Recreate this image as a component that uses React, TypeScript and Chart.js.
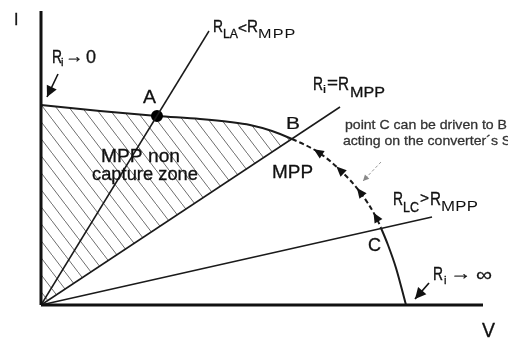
import React, { useEffect, useRef } from "react";
import { Chart, registerables } from "chart.js";

Chart.register(...registerables);

// ---- data (arbitrary units: V on x, I on y) ----
const V_MAX = 44.2;
const I_MAX = 29.4;

const curveV = [0, 5.9, 11.6, 15.9, 18.9, 20.9, 23.1, 25.1, 27.7, 29.9, 31.9, 33.5, 34.0, 34.7, 35.5, 36.5];
const curveI = [20.0, 19.4, 18.9, 18.6, 18.3, 18.0, 17.4, 16.6, 15.3, 13.5, 11.3, 8.8, 7.7, 6.0, 3.7, 0];
const IDX_A = 2;
const IDX_B = 7;
const IDX_C = 12;
const trackArrowIdx = [8, 9, 10, 11];

const loadLA = [{ x: 0, y: 0 }, { x: 16.8, y: 27.4 }];
const loadMPP = [{ x: 0, y: 0 }, { x: 29.9, y: 19.8 }];
const loadLC = [{ x: 0, y: 0 }, { x: 39.1, y: 8.8 }];

const axisV = [{ x: 0, y: 0 }, { x: V_MAX, y: 0 }];
const axisI = [{ x: 0, y: 0 }, { x: 0, y: I_MAX }];

// pointer arrows: [start, tip]
const arrowR0 = [{ x: 1.7, y: 23.1 }, { x: 0.6, y: 20.8 }];
const arrowRInf = [{ x: 38.8, y: 2.2 }, { x: 37.4, y: 0.6 }];
const arrowHint = [{ x: 34.0, y: 14.3 }, { x: 32.2, y: 12.4 }];

const curve = curveV.map((v, i) => ({ x: v, y: curveI[i] }));

// ---- labels (pixel layout) ----
type Part = { t: string; x: number; y: number; size: number; w?: number; color?: string };
const FONT = '"Liberation Sans", Arial, Helvetica, sans-serif';
const labels: Part[] = [
  { t: "I", x: 14, y: 25, size: 16 },
  // R_i -> 0
  { t: "R", x: 52, y: 63, size: 18, w: 10 },
  { t: "i", x: 61, y: 66, size: 11, w: 2.5 },
  { t: "\u2192", x: 65, y: 62, size: 18, w: 18 },
  { t: "0", x: 86, y: 63, size: 18, w: 10 },
  // A
  { t: "A", x: 143, y: 103, size: 18, w: 13 },
  // R_LA<R_MPP
  { t: "R", x: 213, y: 32, size: 17, w: 10 },
  { t: "LA", x: 223, y: 38, size: 12, w: 15 },
  { t: "<", x: 238, y: 33, size: 14, w: 9 },
  { t: "R", x: 247, y: 32, size: 17, w: 11 },
  { t: "MPP", x: 258, y: 38, size: 13.5, w: 38 },
  // R_i=R_MPP
  { t: "R", x: 313, y: 90, size: 18, w: 10 },
  { t: "i", x: 323, y: 93, size: 11, w: 3 },
  { t: "=", x: 327, y: 88, size: 16, w: 11 },
  { t: "R", x: 338, y: 90, size: 18, w: 11 },
  { t: "MPP", x: 350, y: 97, size: 14, w: 35 },
  // MPP non capture zone
  { t: "MPP non", x: 101, y: 162, size: 19, w: 79 },
  { t: "capture zone", x: 92, y: 180, size: 19, w: 106 },
  // B, MPP
  { t: "B", x: 286, y: 129, size: 17, w: 14 },
  { t: "MPP", x: 272, y: 178, size: 19, w: 41 },
  // R_LC>R_MPP
  { t: "R", x: 393, y: 205, size: 18, w: 10 },
  { t: "LC", x: 403, y: 212, size: 14, w: 16 },
  { t: ">", x: 420, y: 203, size: 14, w: 9 },
  { t: "R", x: 430, y: 205, size: 18, w: 11 },
  { t: "MPP", x: 441, y: 211, size: 14, w: 37 },
  // C
  { t: "C", x: 368, y: 251, size: 19, w: 13 },
  // R_i -> inf
  { t: "R", x: 433, y: 280, size: 18, w: 10 },
  { t: "i", x: 444, y: 284, size: 11, w: 2.5 },
  { t: "\u2192", x: 450, y: 279, size: 18, w: 21 },
  { t: "\u221E", x: 476, y: 281, size: 19, w: 16 },
  // V
  { t: "V", x: 482, y: 337, size: 20, w: 13 },
];
const noteLines = ["point C can be driven to B by", "acting on the converter\u00B4s Switch"];

function drawPart(ctx: CanvasRenderingContext2D, p: Part, sxOverride?: number) {
  ctx.save();
  ctx.font = `${p.size}px ${FONT}`;
  ctx.fillStyle = p.color || "#111";
  ctx.strokeStyle = p.color || "#111";
  ctx.textBaseline = "alphabetic";
  ctx.textAlign = "left";
  const mw = ctx.measureText(p.t).width;
  let sx = sxOverride !== undefined ? sxOverride : p.w ? p.w / mw : 1;
  let stroke = true;
  if (sxOverride === undefined && p.w && sx > 1.2 && p.t.length > 1) {
    sx = 1.2;
    const extra = p.w - mw * sx;
    (ctx as any).letterSpacing = `${extra / sx / (p.t.length - 0.5)}px`;
    stroke = false;
  }
  ctx.translate(p.x, p.y);
  ctx.scale(sx, 1);
  ctx.lineWidth = 0.3 / sx;
  ctx.fillText(p.t, 0, 0);
  if (stroke) ctx.strokeText(p.t, 0, 0);
  ctx.restore();
}

function makeHatch(): CanvasPattern | string {
  const w = 13, h = 17;
  const c = document.createElement("canvas");
  c.width = w;
  c.height = h;
  const g = c.getContext("2d");
  if (!g) return "rgba(0,0,0,0.1)";
  g.strokeStyle = "#6e6e6e";
  g.lineWidth = 1;
  g.beginPath();
  g.moveTo(-w, -h);
  g.lineTo(2 * w, 2 * h);
  g.stroke();
  const p = g.createPattern(c, "repeat");
  return p || "rgba(0,0,0,0.1)";
}

function drawHead(ctx: CanvasRenderingContext2D, tx: number, ty: number, dx: number, dy: number, len: number, half: number, color: string, centered: boolean) {
  const L = Math.hypot(dx, dy) || 1;
  const ux = dx / L, uy = dy / L;
  const px = -uy, py = ux;
  let tipX = tx, tipY = ty;
  if (centered) {
    tipX = tx + ux * len / 2;
    tipY = ty + uy * len / 2;
  }
  const bx = tipX - ux * len, by = tipY - uy * len;
  ctx.beginPath();
  ctx.moveTo(tipX, tipY);
  ctx.lineTo(bx + px * half, by + py * half);
  ctx.lineTo(bx - px * half, by - py * half);
  ctx.closePath();
  ctx.fillStyle = color;
  ctx.fill();
}

export default function App() {
  const ref = useRef<HTMLCanvasElement | null>(null);
  useEffect(() => {
    const canvas = ref.current;
    if (!canvas) return;
    const hatch = makeHatch();

    const overlay = {
      id: "overlay",
      beforeDatasetsDraw(chart: any) {
        const { ctx } = chart;
        const xs = chart.scales.x, ys = chart.scales.y;
        ctx.save();
        ctx.beginPath();
        ctx.moveTo(xs.getPixelForValue(0), ys.getPixelForValue(0));
        for (let i = 0; i <= IDX_B; i++) {
          ctx.lineTo(xs.getPixelForValue(curveV[i]), ys.getPixelForValue(curveI[i]));
        }
        ctx.closePath();
        ctx.fillStyle = hatch;
        ctx.fill();
        ctx.restore();
      },
      afterDatasetsDraw(chart: any) {
        const { ctx } = chart;
        const xs = chart.scales.x, ys = chart.scales.y;
        const P = (pt: { x: number; y: number }) => [xs.getPixelForValue(pt.x), ys.getPixelForValue(pt.y)];
        ctx.save();
        const heads: [any[], string, number, number][] = [
          [arrowR0, "#111", 11, 5.5],
          [arrowRInf, "#111", 11, 5.5],
          [arrowHint, "#888", 6, 3],
        ];
        for (const [a, col, len, half] of heads) {
          const [sx, sy] = P(a[0]);
          const [tx, ty] = P(a[1]);
          drawHead(ctx, tx, ty, tx - sx, ty - sy, len, half, col, false);
        }
        for (const i of trackArrowIdx) {
          const [cx, cy] = P(curve[i]);
          const [ax, ay] = P(curve[i - 1]);
          const [bx, by] = P(curve[i + 1]);
          drawHead(ctx, cx, cy, ax - bx, ay - by, 10, 4.5, "#111", true);
        }
        for (const p of labels) drawPart(ctx, p);
        ctx.font = `13px ${FONT}`;
        const m1 = ctx.measureText("point C can be driven to B").width;
        const sx = 162 / m1;
        drawPart(ctx, { t: noteLines[0], x: 345, y: 129, size: 13, color: "#333" }, sx);
        drawPart(ctx, { t: noteLines[1], x: 343, y: 145, size: 13, color: "#333" }, sx);
        ctx.restore();
      },
    };

    const lineColor = "#1a1a1a";
    const base = { showLine: true, pointRadius: 0, clip: false as any, fill: false, tension: 0 };

    const chart = new Chart(canvas, {
      type: "scatter",
      data: {
        datasets: [
          { ...base, data: axisV, borderColor: "#111", borderWidth: 3 },
          { ...base, data: axisI, borderColor: "#111", borderWidth: 3 },
          { ...base, data: loadLA, borderColor: lineColor, borderWidth: 1.5 },
          { ...base, data: loadMPP, borderColor: lineColor, borderWidth: 1.5 },
          { ...base, data: loadLC, borderColor: lineColor, borderWidth: 1.5 },
          {
            ...base,
            data: curve,
            borderColor: lineColor,
            borderWidth: 2,
            tension: 0.3,
            cubicInterpolationMode: "monotone",
            segment: {
              borderDash: (c: any) => (c.p0DataIndex >= IDX_B && c.p1DataIndex <= IDX_C ? [5, 3] : undefined),
            },
            pointRadius: curve.map((_, i) => (i === IDX_A ? 5 : 0)),
            pointBackgroundColor: "#000",
            pointBorderColor: "#000",
          },
          { ...base, data: arrowR0, borderColor: "#111", borderWidth: 1.6 },
          { ...base, data: arrowRInf, borderColor: "#111", borderWidth: 1.6 },
          { ...base, data: arrowHint, borderColor: "#999", borderWidth: 1, borderDash: [3, 2] },
        ] as any,
      },
      options: {
        responsive: false,
        animation: false,
        devicePixelRatio: 1,
        layout: { padding: { left: 41, right: 25, top: 11, bottom: 37 } },
        plugins: { legend: { display: false }, tooltip: { enabled: false } },
        events: [],
        scales: {
          x: { type: "linear", min: 0, max: V_MAX, display: false },
          y: { type: "linear", min: 0, max: I_MAX, display: false },
        },
      } as any,
      plugins: [overlay],
    });
    return () => chart.destroy();
  }, []);

  return (
    <div style={{ position: "fixed", left: 0, top: 0, width: 508, height: 342, background: "#fff" }}>
      <canvas ref={ref} width={508} height={342} style={{ display: "block" }} />
    </div>
  );
}
